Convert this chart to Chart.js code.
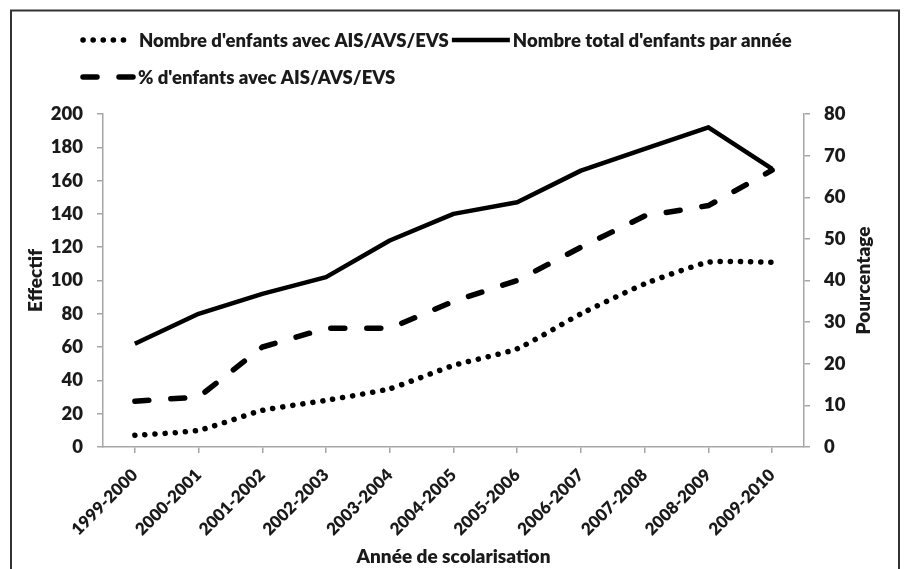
<!DOCTYPE html>
<html>
<head>
<meta charset="utf-8">
<script src="https://cdn.jsdelivr.net/npm/chart.js@4.4.1/dist/chart.umd.min.js"></script>
<style>
  html, body { margin: 0; padding: 0; background: #fff; }
  #wrap { position: relative; width: 904px; height: 569px; }
</style>
</head>
<body>
<div id="wrap"><canvas id="c" width="904" height="569"></canvas></div>
<script>
// ---- Data ----
const categories = ['1999-2000','2000-2001','2001-2002','2002-2003','2003-2004','2004-2005','2005-2006','2006-2007','2007-2008','2008-2009','2009-2010'];
const childrenWithAid = [7, 10, 22, 28, 35, 49, 59, 80, 98, 111, 111];
const totalChildren = [62, 80, 92, 102, 124, 140, 147, 166, 179, 192, 167];
const pctWithAid = [11, 12, 24, 28.5, 28.5, 35, 40, 48, 55.5, 58, 66.5];
const seriesNames = ["Nombre d'enfants avec AIS/AVS/EVS", "Nombre total d'enfants par année", "% d'enfants avec AIS/AVS/EVS"];
const leftTicks = [0, 20, 40, 60, 80, 100, 120, 140, 160, 180, 200];
const rightTicks = [0, 10, 20, 30, 40, 50, 60, 70, 80];
const rightTitle = 'Pourcentage';

const FONT = 'Lato';
const WEIGHT = '800';
const TXT = '#1a1a1a';
const AXIS = '#a6a6a6';

const framePlugin = {
  id: 'frame',
  afterDraw(chart) {
    const ctx = chart.ctx;
    ctx.save();
    ctx.strokeStyle = '#333';
    ctx.lineWidth = 2;
    ctx.beginPath();
    ctx.moveTo(11, 569);
    ctx.lineTo(11, 10.5);
    ctx.lineTo(899, 10.5);
    ctx.lineTo(899, 569);
    ctx.stroke();
    ctx.restore();
  }
};

// Right axis title, reading bottom-to-top like the reference
const rightTitlePlugin = {
  id: 'rightTitle',
  afterDraw(chart) {
    const s = chart.scales.y1;
    const ctx = chart.ctx;
    ctx.save();
    ctx.translate(s.right - 11, (s.top + s.bottom) / 2);
    ctx.rotate(-Math.PI / 2);
    ctx.font = WEIGHT + ' 19px ' + FONT;
    ctx.fillStyle = TXT;
    ctx.textAlign = 'center';
    ctx.textBaseline = 'middle';
    ctx.fillText(rightTitle, 0, 0);
    ctx.restore();
  }
};

const legendPlugin = {
  id: 'customLegend',
  afterDraw(chart) {
    const ctx = chart.ctx;
    const ds = chart.data.datasets;
    ctx.save();
    ctx.font = WEIGHT + ' 18.5px ' + FONT;
    ctx.fillStyle = TXT;
    ctx.textBaseline = 'middle';
    ctx.textAlign = 'left';
    const drawSample = (d, x0, x1, y) => {
      ctx.save();
      ctx.strokeStyle = d.borderColor;
      ctx.lineWidth = d.borderWidth;
      ctx.lineCap = d.borderCapStyle || 'butt';
      ctx.setLineDash(d.borderDash || []);
      ctx.beginPath();
      ctx.moveTo(x0, y);
      ctx.lineTo(x1, y);
      ctx.stroke();
      ctx.restore();
    };
    // row 1
    let y = 40;
    drawSample(ds[0], 83, 125, y);
    ctx.fillText(ds[0].label, 139, y + 1);
    let x = 139 + ctx.measureText(ds[0].label).width + 3;
    drawSample(ds[1], x, x + 58, y);
    ctx.fillText(ds[1].label, x + 61, y + 1);
    // row 2
    y = 77;
    drawSample(ds[2], 83, 136, y);
    ctx.fillText(ds[2].label, 138, y + 1);
    ctx.restore();
  }
};

new Chart(document.getElementById('c'), {
  type: 'line',
  data: {
    labels: categories,
    datasets: [
      {
        label: seriesNames[0],
        data: childrenWithAid,
        yAxisID: 'y',
        borderColor: '#000',
        borderWidth: 5.5,
        borderDash: [0.1, 10],
        borderCapStyle: 'round',
        pointRadius: 0,
        tension: 0.15,
        fill: false
      },
      {
        label: seriesNames[1],
        data: totalChildren,
        yAxisID: 'y',
        borderColor: '#000',
        borderWidth: 4.5,
        borderJoinStyle: 'round',
        pointRadius: 0,
        tension: 0,
        fill: false
      },
      {
        label: seriesNames[2],
        data: pctWithAid,
        yAxisID: 'y1',
        borderColor: '#000',
        borderWidth: 5.5,
        borderDash: [14, 22],
        borderCapStyle: 'round',
        pointRadius: 0,
        tension: 0,
        fill: false
      }
    ]
  },
  options: {
    responsive: false,
    animation: false,
    events: [],
    layout: { padding: { top: 114, left: 24, right: 29, bottom: 1 } },
    plugins: {
      legend: { display: false },
      tooltip: { enabled: false },
      title: { display: false }
    },
    scales: {
      x: {
        type: 'category',
        offset: true,
        afterFit(s) { s.height = 121; },
        grid: { display: true, drawOnChartArea: false, offset: false, color: AXIS, lineWidth: 1.5, tickLength: 6 },
        border: { display: true, color: AXIS, width: 1.5 },
        ticks: {
          color: TXT,
          font: { family: FONT, size: 17, weight: WEIGHT },
          maxRotation: 45,
          minRotation: 45,
          autoSkip: false,
          padding: 12
        },
        title: {
          display: true,
          text: 'Année de scolarisation',
          color: TXT,
          font: { family: FONT, size: 19, weight: WEIGHT },
          padding: 0
        }
      },
      y: {
        position: 'left',
        min: 0,
        max: 200,
        afterFit(s) { s.width = 79; },
        afterBuildTicks(s) { s.ticks = leftTicks.map(v => ({ value: v })); },
        grid: { display: true, drawOnChartArea: false, color: AXIS, lineWidth: 1.5, tickLength: 6 },
        border: { display: true, color: AXIS, width: 1.5 },
        ticks: {
          color: TXT,
          font: { family: FONT, size: 18.5, weight: WEIGHT },
          padding: 14
        },
        title: {
          display: true,
          text: 'Effectif',
          color: TXT,
          font: { family: FONT, size: 19, weight: WEIGHT },
          padding: 0
        }
      },
      y1: {
        position: 'right',
        min: 0,
        max: 80,
        afterFit(s) { s.width = 71; },
        afterBuildTicks(s) { s.ticks = rightTicks.map(v => ({ value: v })); },
        grid: { display: true, drawOnChartArea: false, color: AXIS, lineWidth: 1.5, tickLength: 6 },
        border: { display: true, color: AXIS, width: 1.5 },
        ticks: {
          color: TXT,
          font: { family: FONT, size: 18.5, weight: WEIGHT },
          padding: 14
        },
        title: { display: false }
      }
    }
  },
  plugins: [legendPlugin, rightTitlePlugin, framePlugin]
});
</script>
</body>
</html>
